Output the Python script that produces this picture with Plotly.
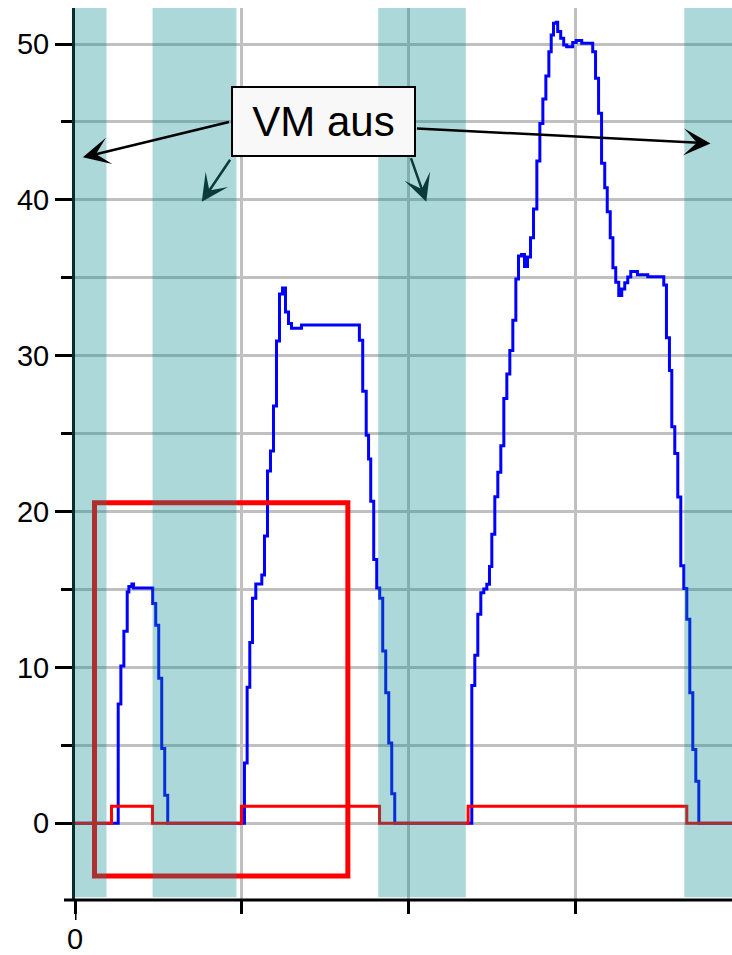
import plotly.graph_objects as go

# blue trace: stepped samples (x where the value changes, new value)
speed_x = [0,
           2.59, 2.75, 2.93, 3.13, 3.23, 3.41, 3.51, 4.66, 4.84, 5.02, 5.20, 5.38, 5.56,
           10.16, 10.32, 10.48, 10.64, 10.84, 11.20, 11.36, 11.54, 11.72, 11.90, 12.08,
           12.26, 12.44, 12.62, 12.80, 12.98, 13.58, 17.05, 17.25, 17.46, 17.60, 17.73,
           17.91, 18.09, 18.27, 18.45, 18.63, 18.81, 18.99, 19.17,
           23.79, 23.97, 24.15, 24.33, 24.51, 24.69, 24.85, 24.99, 25.17, 25.35, 25.53,
           25.71, 25.89, 26.07, 26.25, 26.43, 26.59, 26.77, 26.95, 27.13, 27.31, 27.49,
           27.69, 27.87, 28.05, 28.23, 28.41, 28.55, 28.69, 28.85, 28.94, 29.12, 29.30,
           29.48, 29.84, 30.05, 30.38, 31.04, 31.21, 31.39, 31.57, 31.76, 31.91, 32.09,
           32.25, 32.42, 32.60, 32.78, 32.96, 33.14, 33.32, 33.72, 34.34, 35.30, 35.46,
           35.64, 35.78, 35.96, 36.14, 36.32, 36.50, 36.68, 36.86, 37.04, 37.22, 37.40,
           39.40]
speed_y = [0,
           7.65, 10.1, 12.33, 14.84, 15.2, 15.35, 15.1, 14.1, 12.7, 9.3, 4.8, 1.8, 0,
           3.87, 8.73, 11.6, 14.44, 15.35, 15.93, 18.43, 22.6, 23.89, 26.78, 30.95,
           33.96, 34.34, 32.8, 32.07, 31.76, 31.97, 31.0, 27.72, 24.9, 23.38, 20.67,
           16.92, 15.1, 14.44, 11.06, 8.37, 5.16, 1.9, 0,
           8.85, 10.79, 13.41, 14.79, 15.03, 15.34, 16.48, 18.54, 20.96, 22.53, 24.23,
           27.26, 28.83, 30.33, 32.27, 34.93, 36.4, 36.5, 35.73, 36.34, 37.57, 39.42,
           42.5, 44.9, 46.47, 47.95, 49.51, 50.58, 51.33, 51.4, 50.8, 50.37, 49.94,
           49.83, 50.09, 50.22, 50.05, 49.51, 47.8, 45.56, 42.35, 40.78, 39.24, 37.57,
           35.65, 34.72, 33.86, 34.28, 34.69, 35.05, 35.4, 35.2, 35.07, 34.54, 31.16,
           29.05, 25.44, 23.73, 20.93, 16.53, 15.07, 13.1, 8.37, 4.74, 2.7, 0,
           0]

# red trace: on/off signal
state_x = [0, 2.19, 4.65, 9.98, 18.26, 23.57, 36.68, 39.40]
state_y = [0, 1.1, 0, 1.1, 0, 1.1, 0, 0]

# shaded "VM aus" intervals
off_start = [0, 4.65, 18.18, 36.53]
off_end = [1.89, 9.68, 23.43, 39.40]

# highlight rectangle
box_x = [1.17, 16.36]
box_y = [-3.38, 20.57]

X_RANGE = [0, 39.39]
Y_RANGE = [-4.92, 52.31]
FONT = 'Liberation Sans, Arial, sans-serif'
GRID = '#C0C0C0'

fig = go.Figure()
fig.add_trace(go.Scatter(x=speed_x, y=speed_y, mode='lines', line_shape='hv',
                         line=dict(color='#0000FF', width=3), showlegend=False))
fig.add_trace(go.Scatter(x=state_x, y=state_y, mode='lines', line_shape='hv',
                         line=dict(color='#FF0000', width=3), showlegend=False))

shapes = [dict(type='rect', xref='x', yref='y', x0=box_x[0], x1=box_x[1], y0=box_y[0], y1=box_y[1],
               line=dict(color='#FF0000', width=5), layer='above')]
for a, b in zip(off_start, off_end):
    shapes.append(dict(type='rect', xref='x', yref='paper', x0=a, x1=b, y0=0.003, y1=1,
                       fillcolor='rgba(15,140,145,0.34)', line=dict(width=0), layer='above'))
# extended x axis line and the long tick at 0
shapes.append(dict(type='line', xref='paper', yref='paper', x0=-11 / 657, x1=1, y0=0, y1=0,
                   line=dict(color='black', width=3), layer='above'))
shapes.append(dict(type='line', xref='x', yref='paper', x0=0, x1=0, y0=0, y1=-20 / 892,
                   line=dict(color='black', width=3), layer='above'))

annotations = [dict(x=14.87, y=45.03, xref='x', yref='y', text='VM aus', showarrow=False,
                    font=dict(family=FONT, size=42, color='black'),
                    bgcolor='#F8F8F8', bordercolor='black', borderwidth=2, borderpad=1,
                    width=179, height=65, xanchor='center', yanchor='middle')]
arrows = [
    (0.47, 42.73, 9.32, 45.02, 'black'),
    (7.60, 39.88, 9.36, 42.67, '#0a3a3a'),
    (21.06, 39.88, 20.11, 42.77, '#0a3a3a'),
    (38.10, 43.62, 20.41, 44.59, 'black'),
]
for hx, hy, tx, ty, col in arrows:
    annotations.append(dict(x=hx, y=hy, ax=tx, ay=ty, xref='x', yref='y', axref='x', ayref='y',
                            text='', showarrow=True, arrowhead=3, arrowsize=1.8, arrowwidth=2.5,
                            arrowcolor=col, standoff=0, startstandoff=0))

fig.update_layout(
    width=732, height=955,
    margin=dict(l=75, r=0, t=8, b=55),
    paper_bgcolor='white', plot_bgcolor='white',
    font=dict(family=FONT, size=29, color='black'),
    shapes=shapes, annotations=annotations,
    xaxis=dict(range=X_RANGE, tickvals=[0, 10, 20, 30], ticktext=['0', '', '', ''],
               ticks='outside', ticklen=13, tickwidth=3, tickcolor='black',
               showgrid=True, gridcolor=GRID, gridwidth=3, zeroline=False, showline=False,
               tickfont=dict(size=29)),
    yaxis=dict(range=Y_RANGE, tick0=0, dtick=10, ticks='outside', ticklen=17, tickwidth=3,
               tickcolor='black', showgrid=True, gridcolor=GRID, gridwidth=3, zeroline=False,
               showline=True, linecolor='#063030', linewidth=3, tickfont=dict(size=29),
               minor=dict(tick0=0, dtick=5, ticks='outside', ticklen=11, tickwidth=3,
                          tickcolor='black', showgrid=True, gridcolor=GRID, gridwidth=3)),
)

# drop the default page margin so the figure fills the window exactly
fig.write_html("out.html", config={'displayModeBar': False},
               post_script="document.body.style.margin='0';document.body.style.overflow='hidden';")
